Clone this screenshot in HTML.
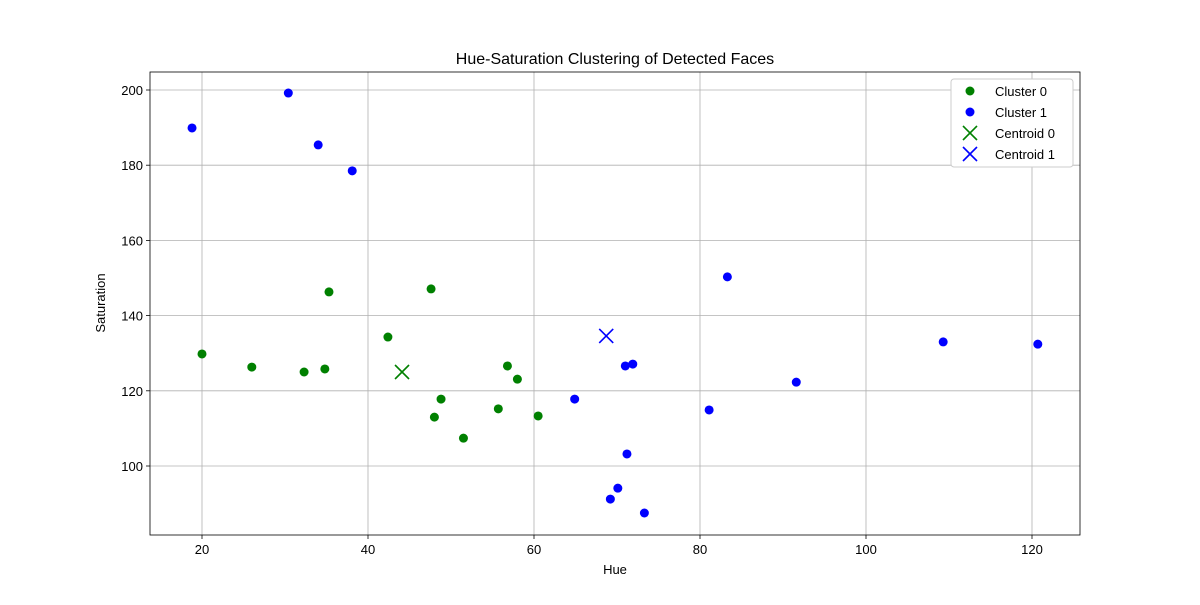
<!DOCTYPE html>
<html><head><meta charset="utf-8"><style>
body{margin:0;background:#fff;font-family:"Liberation Sans","DejaVu Sans",sans-serif}
</style></head><body>
<svg id="chart" width="1200" height="600" xmlns="http://www.w3.org/2000/svg"></svg>
<script>
const c0x=[20,26.0,32.3,34.8,35.3,42.4,47.6,48.0,48.8,51.5,55.7,56.8,58.0,60.5];
const c0y=[129.8,126.3,125.0,125.8,146.3,134.3,147.1,113.0,117.8,107.4,115.2,126.6,123.1,113.3];
const c1x=[18.8,30.4,34.0,38.1,64.9,71.0,71.9,71.2,70.1,69.2,73.3,81.1,83.3,91.6,109.3,120.7];
const c1y=[189.9,199.2,185.4,178.5,117.8,126.6,127.1,103.2,94.1,91.2,87.5,114.9,150.3,122.3,133.0,132.4];
const centX=[44.1,68.7];
const centY=[125.0,134.6];
const xTicks=[20,40,60,80,100,120];
const yTicks=[100,120,140,160,180,200];
const L=150,R=1080,T=72,B=535;
const X=v=>202+(v-20)*8.3;
const Y=v=>466-(v-100)*3.76;
const svg=document.getElementById('chart');
const NS='http://www.w3.org/2000/svg';
function mk(tag,attrs,parent){const e=document.createElementNS(NS,tag);for(const k in attrs)e.setAttribute(k,attrs[k]);(parent||svg).appendChild(e);return e;}
const title=mk('text',{x:615,y:64,'text-anchor':'middle','font-size':16,fill:'#000'});title.textContent='Hue-Saturation Clustering of Detected Faces';


const grid=mk('g',{});


xTicks.forEach(t=>{
 mk('line',{x1:X(t),x2:X(t),y1:T,y2:B,stroke:'#b0b0b0','stroke-width':0.8},grid);
 mk('line',{x1:X(t),x2:X(t),y1:B,y2:B+4,stroke:'#000','stroke-width':0.8});
 const tx=mk('text',{x:X(t),y:B+19,'text-anchor':'middle','font-size':13});tx.textContent=t;
 
 
});
yTicks.forEach(t=>{
 mk('line',{x1:L,x2:R,y1:Y(t),y2:Y(t),stroke:'#b0b0b0','stroke-width':0.8},grid);
 mk('line',{x1:L-4,x2:L,y1:Y(t),y2:Y(t),stroke:'#000','stroke-width':0.8});
 const tx=mk('text',{x:L-7,y:Y(t)+5,'text-anchor':'end','font-size':13});tx.textContent=t;
 
 
});
const frame=mk('rect',{x:L,y:T,width:R-L,height:B-T,fill:'none',stroke:'#000','stroke-width':0.8});


const xl=mk('text',{x:615,y:574,'text-anchor':'middle','font-size':13});xl.textContent='Hue';


const yl=mk('text',{x:105,y:303,'text-anchor':'middle','font-size':13,transform:'rotate(-90 105 303)'});yl.textContent='Saturation';


c0x.forEach((v,i)=>{const p=mk('circle',{cx:X(v),cy:Y(c0y[i]),r:4.5,fill:'green'});
 
 });
c1x.forEach((v,i)=>{const p=mk('circle',{cx:X(v),cy:Y(c1y[i]),r:4.5,fill:'blue'});
 
 });
const cc=['green','blue'];
function cross(cx,cy,col,parent){const g=mk('g',{stroke:col,'stroke-width':1.6},parent);
 mk('line',{x1:cx-7,y1:cy-7,x2:cx+7,y2:cy+7},g);mk('line',{x1:cx-7,y1:cy+7,x2:cx+7,y2:cy-7},g);return g;}
centX.forEach((v,i)=>{const g=cross(X(v),Y(centY[i]),cc[i]);
 
 });
const lg=mk('g',{});


mk('rect',{x:951,y:79,width:122,height:88,rx:3,fill:'#fff',stroke:'#ccc','stroke-width':1},lg);
const labels=['Cluster 0','Cluster 1','Centroid 0','Centroid 1'];
labels.forEach((s,i)=>{const y=91+i*21;
 if(i<2)mk('circle',{cx:970,cy:y,r:4.5,fill:cc[i]},lg);else cross(970,y,cc[i-2],lg);
 const t=mk('text',{x:995,y:y+5,'font-size':13},lg);t.textContent=s;
 
 });
</script>
</body></html>
